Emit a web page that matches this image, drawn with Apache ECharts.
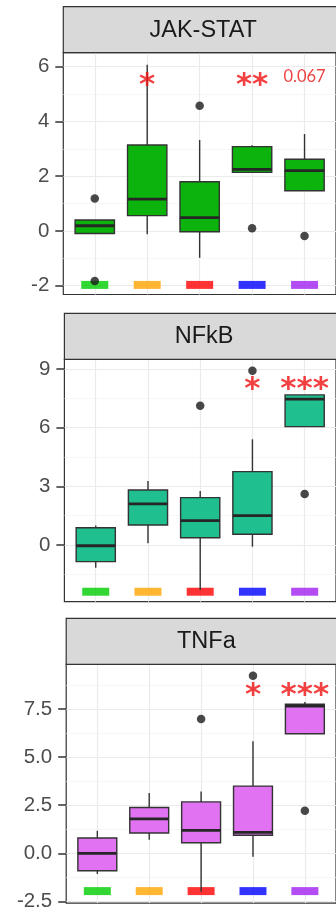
<!DOCTYPE html>
<html><head><meta charset="utf-8">
<script src="https://cdn.jsdelivr.net/npm/echarts@6/dist/echarts.min.js"></script>
<style>html,body{margin:0;padding:0;background:#fff;}#c{width:336px;height:912px;}</style>
</head><body><div id="c"></div>
<script>
// ---------- data ----------
const groups = [1, 2, 3, 4, 5];
const groupColors = ['#00CD00', '#FFA500', '#FF0000', '#0000FF', '#A020F0'];
const panelTitles = ['JAK-STAT', 'NFkB', 'TNFa'];
const boxFills = ['#0DB30D', '#1FBF8F', '#E173F2'];

// box stats per group: [lower whisker, Q1, median, Q3, upper whisker]
const jakBoxes = [[-0.09, -0.09, 0.19, 0.40, 0.40], [-0.12, 0.56, 1.16, 3.14, 6.07], [-0.98, -0.03, 0.49, 1.80, 3.32], [2.14, 2.14, 2.25, 3.08, 3.13], [1.47, 1.47, 2.20, 2.62, 3.54]];
const nfkbBoxes = [[-1.16, -0.85, -0.04, 0.88, 0.99], [0.09, 1.02, 2.10, 2.81, 3.27], [-2.30, 0.37, 1.24, 2.42, 2.76], [-0.09, 0.55, 1.50, 3.75, 5.40], [6.05, 6.05, 7.45, 7.67, 7.67]];
const tnfaBoxes = [[-1.07, -0.90, 0.00, 0.80, 1.17], [0.71, 1.06, 1.79, 2.38, 3.13], [-2.00, 0.55, 1.19, 2.67, 3.21], [-0.18, 0.94, 1.09, 3.49, 5.82], [6.21, 6.21, 7.64, 7.74, 7.86]];

// outliers: [group, value]
const jakOutliers = [[1, 1.19], [1, -1.83], [3, 4.57], [4, 0.10], [5, -0.18]];
const nfkbOutliers = [[3, 7.11], [4, 8.91], [5, 2.61]];
const tnfaOutliers = [[3, 6.97], [4, 9.22], [5, 2.21]];

// significance annotations per group
const jakSig = ['', '*', '', '**', '0.067'];
const nfkbSig = ['', '', '', '*', '***'];
const tnfaSig = ['', '', '', '*', '***'];
const sigLevels = [5.62, 8.4, 8.65];

// group colour-key level per panel
const keyLevels = [-1.97, -2.39, -1.96];

// axis ranges and ticks
const yRanges = [[-2.32, 6.51], [-2.90, 9.49], [-2.58, 9.83]];
const jakTicks = [-2, 0, 2, 4, 6];
const jakTickLabels = ['-2', '0', '2', '4', '6'];
const jakMinor = [-1, 1, 3, 5];
const nfkbTicks = [0, 3, 6, 9];
const nfkbTickLabels = ['0', '3', '6', '9'];
const nfkbMinor = [-1.5, 1.5, 4.5, 7.5];
const tnfaTicks = [-2.5, 0, 2.5, 5, 7.5];
const tnfaTickLabels = ['-2.5', '0.0', '2.5', '5.0', '7.5'];
const tnfaMinor = [-1.25, 1.25, 3.75, 6.25, 8.75];

// ---------- layout ----------
const panelBoxes = [jakBoxes, nfkbBoxes, tnfaBoxes];
const panelOutliers = [jakOutliers, nfkbOutliers, tnfaOutliers];
const panelSig = [jakSig, nfkbSig, tnfaSig];
const panelTicks = [jakTicks, nfkbTicks, tnfaTicks];
const panelTickLabels = [jakTickLabels, nfkbTickLabels, tnfaTickLabels];
const panelMinor = [jakMinor, nfkbMinor, tnfaMinor];

const layout = [
  { left: 63.3, width: 279.8, stripTop: 6.7, top: 52.7, height: 241.8 },
  { left: 64.4, width: 279.5, stripTop: 313.3, top: 359.3, height: 242.4 },
  { left: 66.2, width: 280.3, stripTop: 618.3, top: 664, height: 242 }
];
const stripH = 46;
const FONT = 'Liberation Sans, Arial, sans-serif';

function boxRenderer(fill) {
  return function (params, api) {
    const x = api.value(0);
    const lo = api.coord([x, api.value(1)]);
    const q1 = api.coord([x, api.value(2)]);
    const md = api.coord([x, api.value(3)]);
    const q3 = api.coord([x, api.value(4)]);
    const hi = api.coord([x, api.value(5)]);
    const bw = api.size([0.75, 0])[0];
    const cx = q1[0];
    const ls = { stroke: '#333', lineWidth: 1.4 };
    return {
      type: 'group', children: [
        { type: 'line', shape: { x1: cx, y1: hi[1], x2: cx, y2: q3[1] }, style: ls },
        { type: 'line', shape: { x1: cx, y1: q1[1], x2: cx, y2: lo[1] }, style: ls },
        { type: 'rect', shape: { x: cx - bw / 2, y: q3[1], width: bw, height: q1[1] - q3[1] }, style: { fill: fill, stroke: '#333', lineWidth: 1.4 } },
        { type: 'line', shape: { x1: cx - bw / 2, y1: md[1], x2: cx + bw / 2, y2: md[1] }, style: { stroke: '#262626', lineWidth: 2.8 } }
      ]
    };
  };
}

const grids = [], xAxes = [], yAxes = [], series = [], graphics = [];
layout.forEach((L, i) => {
  grids.push({ left: L.left, width: L.width, top: L.top, height: L.height, show: true, backgroundColor: '#fff', borderColor: '#333', borderWidth: 1.2 });
  xAxes.push({
    gridIndex: i, type: 'value', min: 0.4, max: 5.6,
    axisLine: { show: false }, axisLabel: { show: false },
    axisTick: { show: false, customValues: groups },
    splitLine: { show: true, lineStyle: { color: '#ebebeb', width: 1.2 } }
  });
  const ticks = panelTicks[i], labels = panelTickLabels[i];
  yAxes.push({
    gridIndex: i, type: 'value', min: yRanges[i][0], max: yRanges[i][1], position: 'left',
    axisLine: { show: false },
    axisTick: { show: true, length: 8, lineStyle: { color: '#333', width: 1.5 }, customValues: ticks },
    axisLabel: {
      customValues: ticks, fontSize: 20.5, color: '#4d4d4d', fontFamily: FONT, margin: 14,
      formatter: v => { const k = ticks.findIndex(t => Math.abs(t - v) < 1e-9); return k >= 0 ? labels[k] : ''; }
    },
    splitLine: { show: true, lineStyle: { color: '#ebebeb', width: 1.2 } }
  });
  yAxes.push({
    gridIndex: i, type: 'value', min: yRanges[i][0], max: yRanges[i][1], position: 'left',
    axisLine: { show: false }, axisLabel: { show: false },
    axisTick: { show: false, customValues: panelMinor[i] },
    splitLine: { show: true, lineStyle: { color: '#f3f3f3', width: 0.7 } }
  });
  const yIdx = i * 2;
  series.push({
    type: 'scatter', xAxisIndex: i, yAxisIndex: yIdx, z: 2, silent: true,
    symbol: 'rect', symbolSize: [27, 8],
    data: groups.map((g, k) => ({ value: [g, keyLevels[i]], itemStyle: { color: groupColors[k] } }))
  });
  series.push({
    type: 'custom', xAxisIndex: i, yAxisIndex: yIdx, z: 3, silent: true,
    renderItem: boxRenderer(boxFills[i]),
    encode: { x: 0, y: [1, 2, 3, 4, 5] },
    data: panelBoxes[i].map((b, k) => [groups[k]].concat(b))
  });
  series.push({
    type: 'scatter', xAxisIndex: i, yAxisIndex: yIdx, z: 4, silent: true,
    symbol: 'circle', symbolSize: 8.5, itemStyle: { color: '#1a1a1a' },
    data: panelOutliers[i]
  });
  series.push({
    type: 'scatter', xAxisIndex: i, yAxisIndex: yIdx, z: 5, silent: true,
    symbolSize: 0, itemStyle: { color: 'rgba(0,0,0,0)' },
    data: panelSig[i].map((s, k) => ({ value: [groups[k], sigLevels[i]], name: s })).filter(d => d.name !== '').map(d => {
      const stars = d.name.indexOf('*') >= 0;
      d.label = stars
        ? { show: true, position: 'inside', formatter: '{b}', fontFamily: 'DejaVu Sans', fontWeight: 'bold', fontSize: 31, color: '#f01010', offset: [0, 9] }
        : { show: true, position: 'inside', formatter: '{b}', fontFamily: 'Lato, sans-serif', fontSize: 16.5, color: '#e81414', offset: [0, 0] };
      return d;
    })
  });
  graphics.push({
    type: 'rect', z: 10, silent: true,
    shape: { x: L.left, y: L.stripTop, width: L.width, height: stripH },
    style: { fill: '#d9d9d9', stroke: '#333', lineWidth: 1.2 }
  });
  graphics.push({
    type: 'text', z: 11, silent: true,
    x: L.left + L.width / 2, y: L.stripTop + stripH / 2 + 0.5,
    style: { text: panelTitles[i], font: '23.5px ' + FONT, fill: '#1a1a1a', textAlign: 'center', textVerticalAlign: 'middle' }
  });
});

const chart = echarts.init(document.getElementById('c'), null, { renderer: 'canvas' });
chart.setOption({
  animation: false,
  backgroundColor: '#fff',
  grid: grids, xAxis: xAxes, yAxis: yAxes, series: series, graphic: graphics
});
</script></body></html>
